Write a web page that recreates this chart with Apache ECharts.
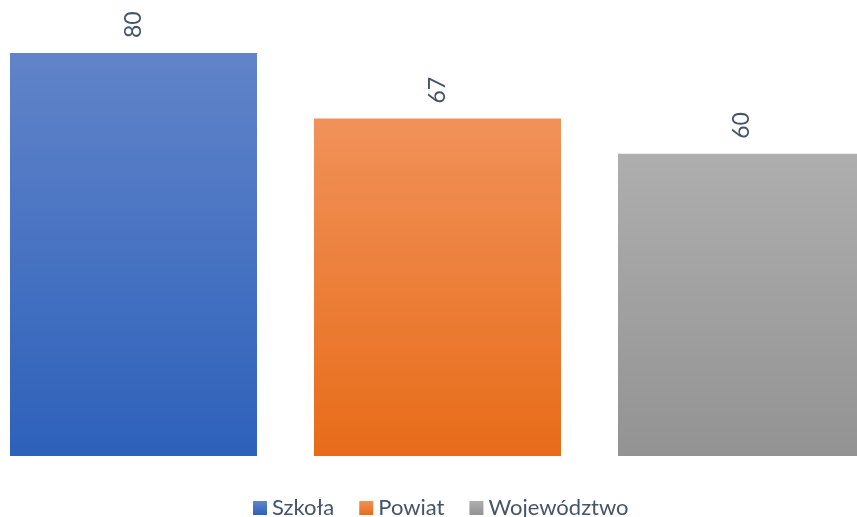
<!DOCTYPE html>
<html><head><meta charset="utf-8">
<script src="https://cdn.jsdelivr.net/npm/echarts@6/dist/echarts.min.js"></script>
<style>html,body{margin:0;padding:0;background:#fff}#c{width:857px;height:517px}</style>
</head><body><div id="c"></div>
<script>
const seriesNames = ['Szkoła', 'Powiat', 'Województwo'];
const seriesValues = [80, 67, 60];
const categories = [''];
const gradients = [
  ['#6184C9', '#2D61BA'],
  ['#F1915A', '#E76C18'],
  ['#AEAEAE', '#939393']
];
const chart = echarts.init(document.getElementById('c'));
chart.setOption({
  animation: false,
  grid: { left: 18, right: 0, top: 53, bottom: 61, containLabel: false },
  xAxis: { type: 'category', data: categories, show: false },
  yAxis: { type: 'value', min: 0, max: 80, show: false },
  legend: {
    top: 497, left: 253, padding: 0,
    itemWidth: 14, itemHeight: 14, itemGap: 25, icon: 'rect',
    textStyle: { fontFamily: 'Lato', fontSize: 22, color: '#44546A' },
    data: seriesNames.map((n, i) => ({ name: n, itemStyle: { color: new echarts.graphic.LinearGradient(0,0,0,1,[{offset:0,color:gradients[i][0]},{offset:1,color:gradients[i][1]}]) } }))
  },
  series: seriesNames.map((n, i) => ({
    name: n, type: 'bar', clip: false, barWidth: 247, barGap: (57/247*100).toFixed(2) + '%', barCategoryGap: 0,
    data: [seriesValues[i]],
    itemStyle: { color: new echarts.graphic.LinearGradient(0,0,0,1,[{offset:0,color:gradients[i][0]},{offset:1,color:gradients[i][1]}]) },
    label: { show: true, position: 'top', rotate: 90, align: 'left', verticalAlign: 'middle', distance: 15,
      fontFamily: 'Lato', fontSize: 23, color: '#44546A' }
  }))
});
</script></body></html>
